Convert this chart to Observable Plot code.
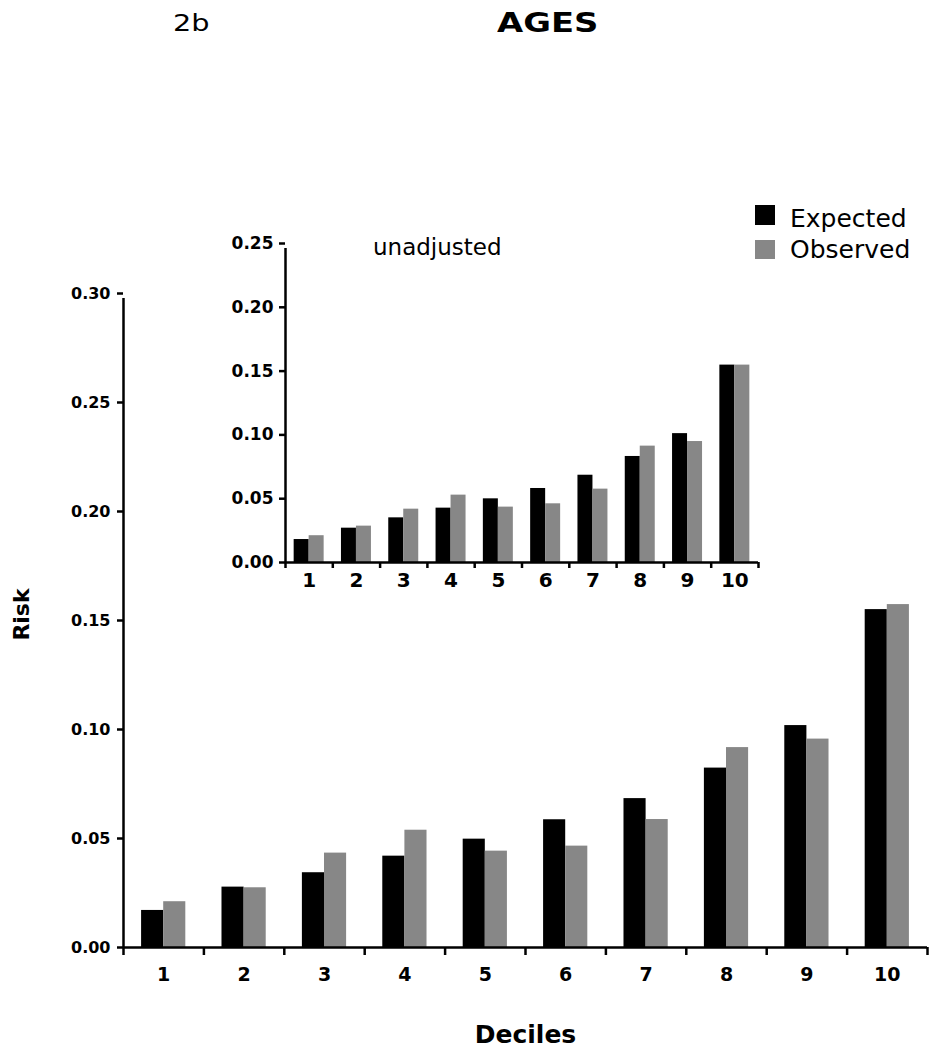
<!DOCTYPE html>
<html>
<head>
<meta charset="utf-8">
<script src="https://cdn.jsdelivr.net/npm/d3@7"></script>
<script src="https://cdn.jsdelivr.net/npm/@observablehq/plot@0.6"></script>
<style>
  html, body { margin: 0; padding: 0; background: #fff; }
  #wrap { position: relative; width: 937px; height: 1050px; font-family: "DejaVu Sans", sans-serif; color: #000; }
  #wrap > div.txt { position: absolute; line-height: 1; white-space: nowrap; }
  .sw { position: absolute; width: 20px; }
  #main, #inset { position: absolute; }
</style>
</head>
<body>
<div id="wrap">
  <div id="main" style="left:0;top:0"></div>
  <div id="inset" style="left:220px;top:230px"></div>
  <div class="txt" id="tag" style="left:173px;top:12px;font-size:23px;transform:scaleX(1.25);transform-origin:left"></div>
  <div class="txt" id="title" style="left:497px;top:10px;font-size:26px;font-weight:bold;transform:scaleX(1.3);transform-origin:left"></div>
  <div class="txt" id="subtitle" style="left:373px;top:236px;font-size:23px"></div>
  <div class="sw" style="left:755px;top:205px;height:20px;background:#000000"></div>
  <div class="sw" style="left:755px;top:240px;height:19px;background:#878787"></div>
  <div class="txt" id="leg0" style="left:790px;top:206px;font-size:25px"></div>
  <div class="txt" id="leg1" style="left:790px;top:237px;font-size:25px"></div>
</div>
<script>
// ---- data ----
const deciles = [1, 2, 3, 4, 5, 6, 7, 8, 9, 10];
const series = ["Expected", "Observed"];
const seriesColors = ["#000000", "#878787"];
const mainExpected = [0.017, 0.0277, 0.0343, 0.0419, 0.0497, 0.0586, 0.0683, 0.0823, 0.1018, 0.155];
const mainObserved = [0.021, 0.0274, 0.0433, 0.0538, 0.0442, 0.0465, 0.0587, 0.0917, 0.0956, 0.1573];
const insetExpected = [0.018, 0.0269, 0.035, 0.0426, 0.0499, 0.058, 0.0684, 0.0831, 0.101, 0.1547];
const insetObserved = [0.021, 0.0285, 0.0418, 0.0528, 0.0434, 0.046, 0.0575, 0.0912, 0.0948, 0.1547];
const mainYTicks = [0, 0.05, 0.10, 0.15, 0.20, 0.25, 0.30];
const insetYTicks = [0, 0.05, 0.10, 0.15, 0.20, 0.25];
const decileBoundaries = [0.5, 1.5, 2.5, 3.5, 4.5, 5.5, 6.5, 7.5, 8.5, 9.5, 10.5];
const titleText = "AGES";
const tagText = "2b";
const insetLabel = "unadjusted";
const yLabel = "Risk";
const xLabel = "Deciles";

document.getElementById("title").textContent = titleText;
document.getElementById("tag").textContent = tagText;
document.getElementById("subtitle").textContent = insetLabel;
document.getElementById("leg0").textContent = series[0];
document.getElementById("leg1").textContent = series[1];

function rows(exp, obs) {
  const out = [];
  deciles.forEach((d, i) => {
    out.push({decile: d, series: series[0], k: 0, value: exp[i]});
    out.push({decile: d, series: series[1], k: 1, value: obs[i]});
  });
  return out;
}
const mainData = rows(mainExpected, mainObserved);
const insetData = rows(insetExpected, insetObserved);
const xDomain = [decileBoundaries[0], decileBoundaries[decileBoundaries.length - 1]];

function chart({data, width, height, margins, yDomain, yTicks, barHalf, yFont, xFont, xTickSize, xPad, yPad, extra}) {
  return Plot.plot({
    width, height,
    marginTop: margins[0], marginRight: margins[1], marginBottom: margins[2], marginLeft: margins[3],
    style: {fontFamily: "DejaVu Sans", fontWeight: "bold", background: "transparent", color: "#000"},
    x: {type: "linear", domain: xDomain},
    y: {domain: yDomain},
    color: {domain: series, range: seriesColors},
    marks: [
      Plot.rect(data, {
        x1: d => d.decile - barHalf + d.k * barHalf,
        x2: d => d.decile + d.k * barHalf,
        y1: d => 0,
        y2: "value",
        fill: "series"
      }),
      Plot.axisY({ticks: yTicks, tickFormat: d3.format(".2f"), tickSize: 6, tickPadding: yPad, fontSize: yFont, fontWeight: "bold", strokeWidth: 2.5, label: null}),
      Plot.axisX({ticks: decileBoundaries, tickFormat: () => "", tickSize: xTickSize, strokeWidth: 2.5, label: null}),
      Plot.axisX({ticks: deciles, tickFormat: d3.format("d"), tickSize: 0, tickPadding: xPad, fontSize: xFont, fontWeight: "bold", label: null}),
      Plot.ruleX([xDomain[0]], {y1: yDomain[0], y2: yDomain[1], strokeWidth: 2.5, insetBottom: -5}),
      Plot.ruleY([yDomain[0]], {strokeWidth: 2.5}),
      ...(extra || [])
    ]
  });
}

const mainPlot = chart({
  data: mainData, width: 937, height: 1050, margins: [293, 10, 103, 123],
  yDomain: [0, 0.30], yTicks: mainYTicks, barHalf: 0.275,
  yFont: 16, xFont: 19, xTickSize: 8, xPad: 20, yPad: 7,
  extra: [
    Plot.text([xLabel], {frameAnchor: "bottom", dy: 95, fontSize: 25, fontWeight: "bold", text: d => d}),
    Plot.text([yLabel], {frameAnchor: "left", textAnchor: "middle", lineAnchor: "middle", dx: -102, dy: -6, rotate: -90, fontSize: 22, fontWeight: "bold", text: d => d})
  ]
});
document.getElementById("main").appendChild(mainPlot);

const insetPlot = chart({
  data: insetData, width: 550, height: 370, margins: [13, 12, 38, 65],
  yDomain: [0, 0.25], yTicks: insetYTicks, barHalf: 0.317,
  yFont: 17, xFont: 20, xTickSize: 6, xPad: 10, yPad: 6
});
document.getElementById("inset").appendChild(insetPlot);
</script>
</body>
</html>
